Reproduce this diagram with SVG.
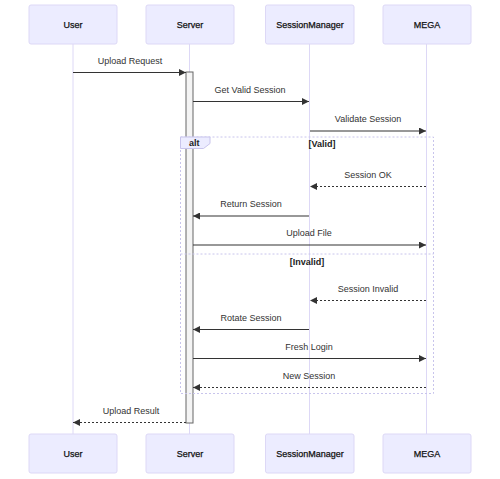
<svg xmlns="http://www.w3.org/2000/svg" width="500" height="479" viewBox="0 0 500 479">
<style>
.actor{fill:#ececff;stroke:#ddd8f6;stroke-width:1}
.life{stroke:#ddd8f6;stroke-width:1}
.at{font-family:"Liberation Sans",Arial,sans-serif;font-size:9px;fill:#111;text-anchor:middle;stroke:#111;stroke-width:0.25}
.mt{font-family:"Liberation Sans",Arial,sans-serif;font-size:9px;fill:#333;text-anchor:middle}
.msg{stroke:#333;stroke-width:1.2;fill:none}
.dot{stroke-dasharray:2,2}
.frame{fill:none;stroke:#c8c4ec;stroke-width:1;stroke-dasharray:2,2}
.lt{font-family:"Liberation Sans",Arial,sans-serif;font-size:9px;fill:#222;font-weight:bold}
</style>
<defs>
<marker id="arr" viewBox="0 0 10 10" refX="10" refY="5" markerWidth="7" markerHeight="7" markerUnits="userSpaceOnUse" orient="auto">
<path d="M0,0 L10,5 L0,10 z" fill="#333"/>
</marker>
</defs>
<g id="lifelines">
<line class="life" x1="73" y1="44" x2="73" y2="434"/>
<line class="life" x1="189.5" y1="44" x2="189.5" y2="434"/>
<line class="life" x1="309.5" y1="44" x2="309.5" y2="434"/>
<line class="life" x1="426.5" y1="44" x2="426.5" y2="434"/>
</g>
<g id="User"><rect class="actor" x="29" y="5" width="88" height="39" rx="2"/><text class="at" x="73" y="28">User</text></g>
<g id="Server"><rect class="actor" x="146" y="5" width="88" height="39" rx="2"/><text class="at" x="190" y="28">Server</text></g>
<g id="SessionManager"><rect class="actor" x="265.5" y="5" width="88.5" height="39" rx="2"/><text class="at" x="310" y="28">SessionManager</text></g>
<g id="MEGA"><rect class="actor" x="383" y="5" width="88" height="39" rx="2"/><text class="at" x="427" y="28">MEGA</text></g>
<g id="User_bottom"><rect class="actor" x="29" y="434" width="88" height="39" rx="2"/><text class="at" x="73" y="457">User</text></g>
<g id="Server_bottom"><rect class="actor" x="146" y="434" width="88" height="39" rx="2"/><text class="at" x="190" y="457">Server</text></g>
<g id="SessionManager_bottom"><rect class="actor" x="265.5" y="434" width="88.5" height="39" rx="2"/><text class="at" x="310" y="457">SessionManager</text></g>
<g id="MEGA_bottom"><rect class="actor" x="383" y="434" width="88" height="39" rx="2"/><text class="at" x="427" y="457">MEGA</text></g>
<g id="activation"><rect x="186" y="72" width="7" height="351" fill="#f4f4f4" stroke="#666" stroke-width="1"/></g>
<g id="alt">
<rect class="frame" x="180.5" y="137" width="253" height="256.5"/>
<line class="frame" x1="180.5" y1="254" x2="433.5" y2="254"/>
<path d="M180.5,137 H210 V143.5 L203.5,148.5 H180.5 Z" fill="#ececff" stroke="#c8c4ec" stroke-width="1"/>
<text class="lt" x="189" y="146">alt</text>
<text class="lt" x="322" y="147" text-anchor="middle">[Valid]</text>
<text class="lt" x="307" y="265" text-anchor="middle">[Invalid]</text>
</g>
<g id="connectors">
<line class="msg" x1="73" y1="72.5" x2="186" y2="72.5" marker-end="url(#arr)"/>
<text class="mt" x="130" y="64">Upload Request</text>
<line class="msg" x1="193" y1="101.5" x2="309" y2="101.5" marker-end="url(#arr)"/>
<text class="mt" x="250" y="93">Get Valid Session</text>
<line class="msg" x1="310" y1="131" x2="426" y2="131" marker-end="url(#arr)"/>
<text class="mt" x="368" y="122">Validate Session</text>
<line class="msg dot" x1="426" y1="186.5" x2="310" y2="186.5" marker-end="url(#arr)"/>
<text class="mt" x="368" y="178">Session OK</text>
<line class="msg" x1="309" y1="216" x2="193" y2="216" marker-end="url(#arr)"/>
<text class="mt" x="251" y="207">Return Session</text>
<line class="msg" x1="193" y1="245" x2="426" y2="245" marker-end="url(#arr)"/>
<text class="mt" x="309" y="236">Upload File</text>
<line class="msg dot" x1="426" y1="300.5" x2="310" y2="300.5" marker-end="url(#arr)"/>
<text class="mt" x="368" y="292">Session Invalid</text>
<line class="msg" x1="309" y1="329.5" x2="193" y2="329.5" marker-end="url(#arr)"/>
<text class="mt" x="251" y="321">Rotate Session</text>
<line class="msg" x1="193" y1="358.5" x2="426" y2="358.5" marker-end="url(#arr)"/>
<text class="mt" x="309" y="350">Fresh Login</text>
<line class="msg dot" x1="426" y1="387.5" x2="193" y2="387.5" marker-end="url(#arr)"/>
<text class="mt" x="309" y="379">New Session</text>
<line class="msg dot" x1="186" y1="422.5" x2="73" y2="422.5" marker-end="url(#arr)"/>
<text class="mt" x="131" y="414">Upload Result</text>
</g>
</svg>
